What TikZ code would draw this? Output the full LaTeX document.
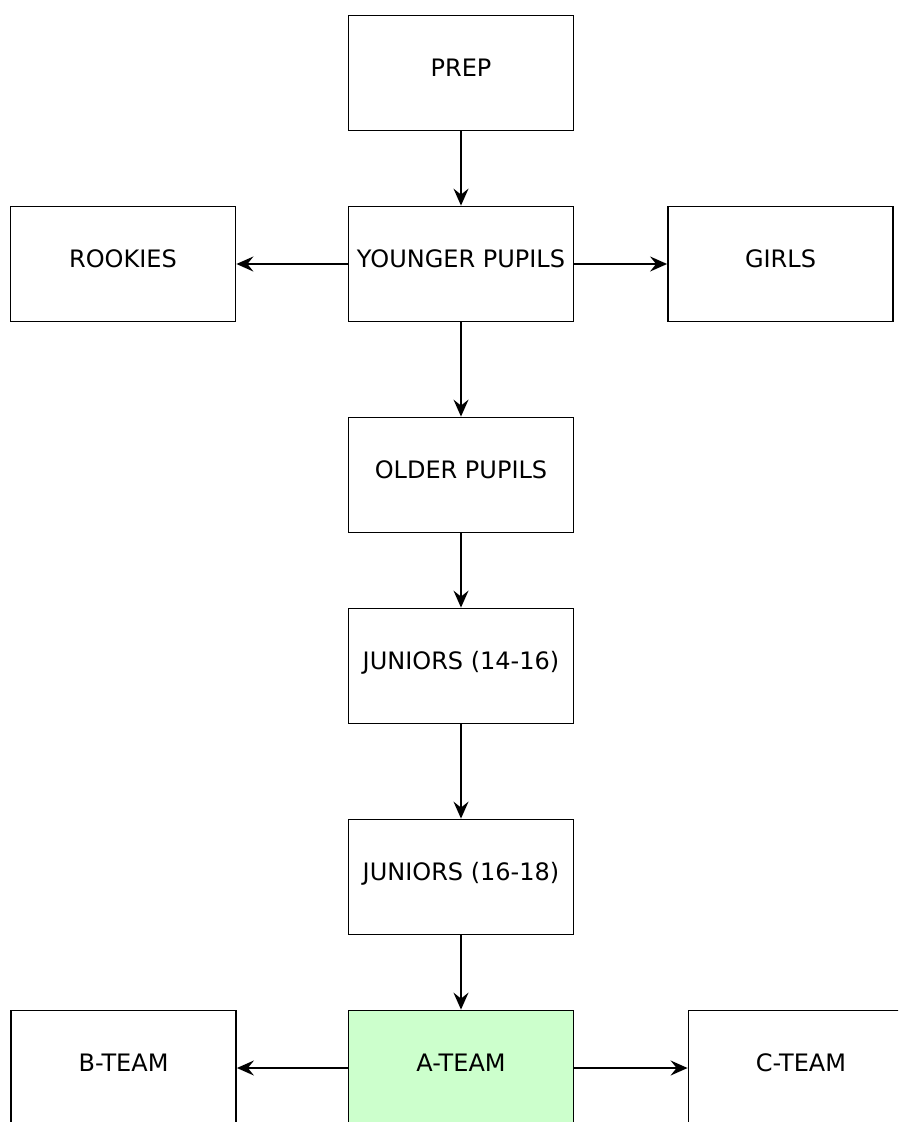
\documentclass[tikz,border=0pt]{standalone}
\usepackage{fontspec}
\setmainfont{DejaVu Sans}
\usepackage{tikz}
\usetikzlibrary{shapes, arrows, arrows.meta}
\tikzstyle{group} = [rectangle, minimum width=225pt, minimum height=115pt, text centered, draw=black, line width=1.8pt, fill=white, text height=17pt, text depth=11pt]
\tikzstyle{top} = [group, fill={rgb,255:red,204;green,255;blue,204}]
\tikzstyle{arrow} = [line width=1.8pt,-{Stealth[length=17pt,width=15pt,inset=6pt]}]

\begin{document}
\begin{tikzpicture}[x=1pt, y=1pt, node distance=191pt, every node/.style={font=\fontsize{24}{28}\selectfont}]
\useasboundingbox (0,0) rectangle (898,-1122);
\clip (0,0) rectangle (898,-1122);

% Nodes
\node (prep) [group] at (461,-73) {PREP};
\node (younger) [below of=prep, group] {YOUNGER PUPILS};
\node (rookies) [left of=younger, xshift=-147pt, group] {ROOKIES};
\node (girls) [right of=younger, xshift=128.5pt, group] {GIRLS};
\node (older) [below of=younger, group, yshift=-20pt] {OLDER PUPILS};
\node (jun1) [below of=older, group] {JUNIORS (14-16)};
\node (jun2) [below of=jun1, group, yshift=-20pt] {JUNIORS (16-18)};
\node (ateam) [below of=jun2, top] {A-TEAM};
\node (bteam) [left of=ateam, xshift=-146.5pt, group] {B-TEAM};
\node (cteam) [right of=ateam, xshift=149pt, group] {C-TEAM};

% Arrows
\draw [arrow] (prep) -- (younger);
\draw [arrow] (younger) -- (rookies);
\draw [arrow] (younger) -- (girls);
\draw [arrow] (younger) -- (older);
\draw [arrow] (older) -- (jun1);
\draw [arrow] (jun1) -- (jun2);
\draw [arrow] (jun2) -- (ateam);
\draw [arrow] (ateam) -- (bteam);
\draw [arrow] (ateam) -- (cteam);

\end{tikzpicture}
\end{document}
